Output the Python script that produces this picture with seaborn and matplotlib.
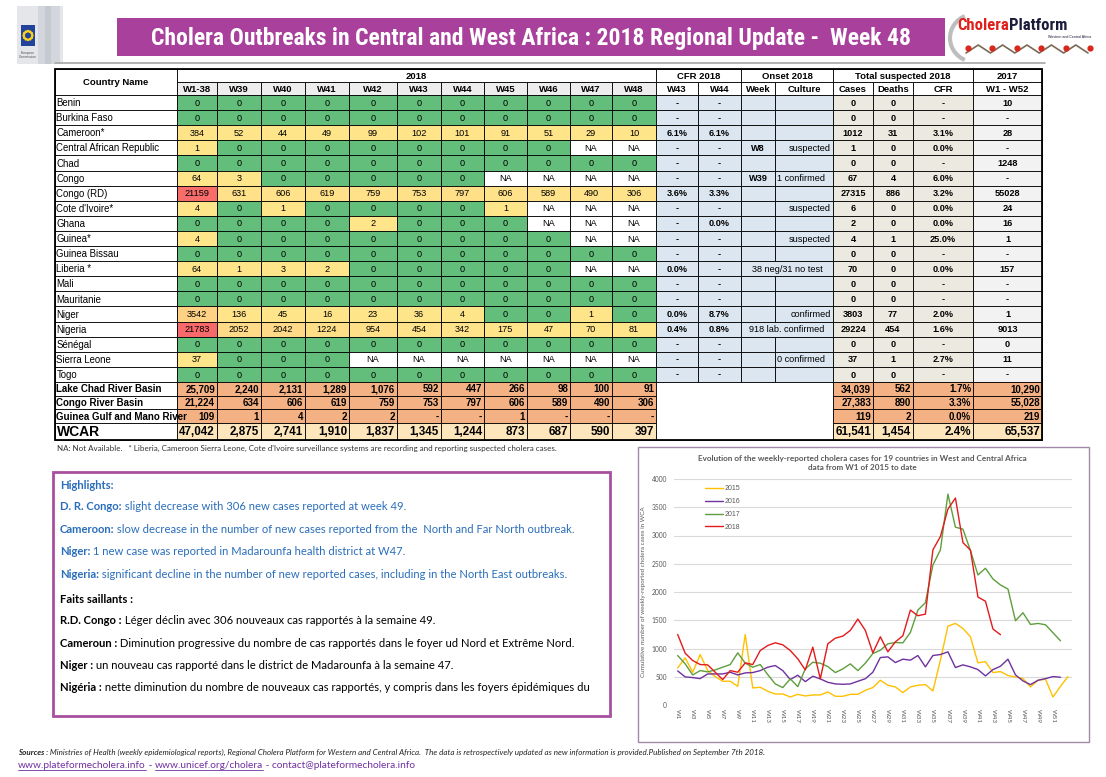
import numpy as np
import pandas as pd
import matplotlib
matplotlib.use('Agg')
import matplotlib.pyplot as plt
from matplotlib.patches import Rectangle, Circle, Arc
from matplotlib.colors import to_rgb
import seaborn as sns

sns.set_theme(style='white')
plt.rcParams['font.family'] = ['Liberation Sans', 'DejaVu Sans']

# ---------------- table data ----------------
week_cols = ['W1-38', 'W39', 'W40', 'W41', 'W42', 'W43', 'W44', 'W45', 'W46', 'W47', 'W48']
countries = ['Benin', 'Burkina Faso', 'Cameroon*', 'Central African Republic', 'Chad', 'Congo',
             'Congo (RD)', "Cote d'Ivoire*", 'Ghana', 'Guinea*', 'Guinea Bissau', 'Liberia *',
             'Mali', 'Mauritanie', 'Niger', 'Nigeria', 'Sénégal', 'Sierra Leone', 'Togo']
NA = 'NA'
weekly_2018 = [
    [0, 0, 0, 0, 0, 0, 0, 0, 0, 0, 0],
    [0, 0, 0, 0, 0, 0, 0, 0, 0, 0, 0],
    [384, 52, 44, 49, 99, 102, 101, 91, 51, 29, 10],
    [1, 0, 0, 0, 0, 0, 0, 0, 0, NA, NA],
    [0, 0, 0, 0, 0, 0, 0, 0, 0, 0, 0],
    [64, 3, 0, 0, 0, 0, 0, NA, NA, NA, NA],
    [21159, 631, 606, 619, 759, 753, 797, 606, 589, 490, 306],
    [4, 0, 1, 0, 0, 0, 0, 1, NA, NA, NA],
    [0, 0, 0, 0, 2, 0, 0, 0, NA, NA, NA],
    [4, 0, 0, 0, 0, 0, 0, 0, 0, NA, NA],
    [0, 0, 0, 0, 0, 0, 0, 0, 0, 0, 0],
    [64, 1, 3, 2, 0, 0, 0, 0, 0, NA, NA],
    [0, 0, 0, 0, 0, 0, 0, 0, 0, 0, 0],
    [0, 0, 0, 0, 0, 0, 0, 0, 0, 0, 0],
    [3542, 136, 45, 16, 23, 36, 4, 0, 0, 1, 0],
    [21783, 2052, 2042, 1224, 954, 454, 342, 175, 47, 70, 81],
    [0, 0, 0, 0, 0, 0, 0, 0, 0, 0, 0],
    [37, 0, 0, 0, NA, NA, NA, NA, NA, NA, NA],
    [0, 0, 0, 0, 0, 0, 0, 0, 0, 0, 0],
]
cfr_w43 = ['-', '-', '6.1%', '-', '-', '-', '3.6%', '-', '-', '-', '-', '0.0%', '-', '-',
           '0.0%', '0.4%', '-', '-', '-']
cfr_w44 = ['-', '-', '6.1%', '-', '-', '-', '3.3%', '-', '0.0%', '-', '-', '-', '-', '-',
           '8.7%', '0.8%', '-', '-', '-']
onset_week = ['', '', '', 'W8', '', 'W39', '', '', '', '', '', '', '', '', '', '', '', '', '']
onset_culture = ['', '', '', 'suspected', '', '1 confirmed', '', 'suspected', '', 'suspected', '',
                 '', '', '', 'confirmed', '', '', '0 confirmed', '']
onset_merged = ['', '', '', '', '', '', '', '', '', '', '', '38 neg/31 no test', '', '', '',
                '918 lab. confirmed', '', '', '']
total_cases = [0, 0, 1012, 1, 0, 67, 27315, 6, 2, 4, 0, 70, 0, 0, 3803, 29224, 0, 37, 0]
total_deaths = [0, 0, 31, 0, 0, 4, 886, 0, 0, 1, 0, 0, 0, 0, 77, 454, 0, 1, 0]
total_cfr = ['-', '-', '3.1%', '0.0%', '-', '6.0%', '3.2%', '0.0%', '0.0%', '25.0%', '-', '0.0%',
             '-', '-', '2.0%', '1.6%', '-', '2.7%', '-']
cases_2017_total = ['10', '-', '28', '-', '1248', '-', '55028', '24', '16', '1', '-', '157', '-',
                    '-', '1', '9013', '0', '11', '-']

basins = ['Lake Chad River Basin', 'Congo River Basin', 'Guinea Gulf and Mano River', 'WCAR']
basin_weekly = [
    ['25,709', '2,240', '2,131', '1,289', '1,076', '592', '447', '266', '98', '100', '91'],
    ['21,224', '634', '606', '619', '759', '753', '797', '606', '589', '490', '306'],
    ['109', '1', '4', '2', '2', '-', '-', '1', '-', '-', '-'],
    ['47,042', '2,875', '2,741', '1,910', '1,837', '1,345', '1,244', '873', '687', '590', '397'],
]
basin_cases = ['34,039', '27,383', '119', '61,541']
basin_deaths = ['562', '890', '2', '1,454']
basin_cfr = ['1.7%', '3.3%', '0.0%', '2.4%']
basin_2017 = ['10,290', '55,028', '219', '65,537']

# ---------------- chart data (weekly cases) ----------------
years = ['2015', '2016', '2017', '2018']
cases_2015 = [657, 834, 580, 893, 609, 503, 420, 420, 331, 1248, 302, 314, 243, 195, 195, 142,
              189, 160, 178, 178, 231, 154, 154, 189, 189, 260, 308, 438, 349, 320, 219, 320,
              349, 361, 249, 793, 1396, 1444, 1355, 1207, 745, 769, 574, 592, 521, 497, 467,
              320, 438, 456, 142, 331, 503]
cases_2016 = [603, 497, 485, 467, 550, 550, 550, 580, 532, 568, 574, 609, 669, 698, 609, 450,
              527, 414, 509, 462, 402, 373, 367, 373, 420, 465, 580, 840, 852, 751, 811, 793,
              876, 675, 876, 893, 941, 663, 710, 675, 627, 515, 627, 686, 811, 533, 426, 361,
              438, 467, 503, 491]
cases_2017 = [876, 728, 532, 609, 586, 621, 669, 716, 923, 740, 669, 716, 538, 373, 308, 462,
              325, 639, 757, 740, 680, 574, 639, 728, 609, 740, 911, 970, 1083, 1106, 1100,
              1284, 1680, 1811, 2479, 2745, 3733, 3148, 3112, 2734, 2302, 2420, 2231, 2124,
              2053, 1491, 1633, 1426, 1444, 1420, 1278, 1136]
cases_2018 = [1248, 917, 787, 716, 710, 580, 450, 609, 580, 746, 716, 964, 1053, 1101, 1065, 964,
              817, 621, 1024, 462, 1083, 1183, 1219, 1320, 1521, 1320, 923, 1207, 941, 1118,
              1225, 1680, 1580, 1609, 2745, 2982, 3467, 3663, 2875, 2741, 1910, 1837, 1345, 1244]
year_colors = {'2015': '#FFC000', '2016': '#7030A0', '2017': '#5E9E3C', '2018': '#E41A1C'}

frames = []
for yr, vals in zip(years, [cases_2015, cases_2016, cases_2017, cases_2018]):
    frames.append(pd.DataFrame({'week': np.arange(1, len(vals) + 1), 'cases': vals, 'year': yr}))
df = pd.concat(frames, ignore_index=True)

# ---------------- figure ----------------
fig = plt.figure(figsize=(11.06, 7.77), dpi=100)
bg = fig.add_axes([0, 0, 1, 1])
bg.set_xlim(0, 1106)
bg.set_ylim(777, 0)
bg.axis('off')
renderer = fig.canvas.get_renderer()
NARROW = ['Roboto Condensed', 'Liberation Sans Narrow', 'Liberation Sans', 'DejaVu Sans']
HF = ['Lato', 'DejaVu Sans']


def width_of(t):
    return t.get_window_extent(renderer).width


# header: EU logo
for x0, w, c in [(17, 46, '#E4E6EA'), (38, 22, '#D3D6DC'), (45, 6, '#C5C9D0')]:
    bg.add_patch(Rectangle((x0, 6), w, 58, facecolor=c, edgecolor='none'))
bg.add_patch(Rectangle((21, 25), 14, 21, facecolor='#23429A', edgecolor='none'))
for a in np.linspace(0, 2 * np.pi, 12, endpoint=False):
    bg.add_patch(Circle((28 + 4.3 * np.cos(a), 35.5 + 4.3 * np.sin(a)), 0.7, color='#FFD617'))
bg.text(28, 55, 'European\nCommission', fontsize=2.3, ha='center', va='center', color='#555555',
        linespacing=1.2)

# banner, title squeezed to the banner's text width
bg.add_patch(Rectangle((117, 18), 828, 38, facecolor='#A8409C', edgecolor='none'))
ttl = bg.text(531, 38, 'Cholera Outbreaks in Central and West Africa : 2018 Regional Update -  Week 48',
              ha='center', va='center', color='white', fontsize=17, fontweight='bold',
              family=NARROW)
ttl.set_fontsize(17 * min(1.0, 803 / width_of(ttl)))

# Cholera Platform logo
bg.add_patch(Arc((975, 38), 50, 48, theta1=115, theta2=245, color='#BDBDBD', lw=3))
t1 = bg.text(957, 30, 'Cholera', color='#E0201B', fontsize=12, fontweight='bold',
             family=NARROW, va='baseline')
t2 = bg.text(957, 30, 'Platform', color='#1B1B3A', fontsize=12, fontweight='bold',
             family=NARROW, va='baseline')
sc = min(1.0, 134 / (width_of(t1) + width_of(t2)))
t1.set_fontsize(12 * sc)
t2.set_fontsize(12 * sc)
t2.set_x(957 + width_of(t1))
bg.text(1091, 37, 'Western and Central Africa', fontsize=2.6, ha='right', va='center',
        color='#1B1B3A')
zx = np.linspace(966, 1088, 11)
zy = np.where(np.arange(11) % 2 == 0, 53, 45)
bg.plot(zx, zy, color='#7A6A55', lw=1.2)
bg.scatter(zx[::2] + 2, zy[::2] - 5, s=12, color='#D9261C', zorder=3)
bg.plot([55, 1045], [63, 63], color='#A6A6A6', lw=1.2)

# ---------------- table ----------------
col_edges = [55, 177, 217, 261, 305, 349, 397, 441, 484, 527, 570, 612, 656, 698, 741, 775, 833,
             873, 913, 973, 1042]
row_h = (382 - 95) / 19
TS = 6.6


def cell(x0, x1, y0, y1, fc='white', txt='', ha='center', bold=False, size=TS, color='black',
         pad=2.5, clip=False):
    r = Rectangle((x0, y0), x1 - x0, y1 - y0, facecolor=fc, edgecolor='black', linewidth=0.6)
    bg.add_patch(r)
    if txt != '':
        x = {'center': (x0 + x1) / 2, 'left': x0 + pad, 'right': x1 - pad}[ha]
        tt = bg.text(x, (y0 + y1) / 2 + 0.6, str(txt), ha=ha, va='center', fontsize=size,
                     fontweight='bold' if bold else 'normal', color=color)
        if clip:
            tt.set_clip_path(r)


yellow, red = np.array(to_rgb('#FFE58A')), np.array(to_rgb('#F8696B'))
vmax = max(v for row in weekly_2018 for v in row if v != NA)


def week_color(v):
    if v == NA:
        return 'white'
    if v == 0:
        return '#63BE7B'
    f = v / vmax
    return tuple(yellow * (1 - f) + red * f)


# header rows
cell(55, 177, 69, 95, txt='Country Name', bold=True, size=6.8)
for (a, b), lab in zip([(177, 656), (656, 741), (741, 833), (833, 973), (973, 1042)],
                       ['2018', 'CFR 2018', 'Onset 2018', 'Total suspected 2018', '2017']):
    cell(a, b, 69, 82, txt=lab, bold=True, size=6.8)
sub_labels = week_cols + ['W43', 'W44', 'Week', 'Culture', 'Cases', 'Deaths', 'CFR', 'W1 - W52']
for j, lab in enumerate(sub_labels):
    fc = '#EDEDED' if j < len(week_cols) else 'white'
    cell(col_edges[j + 1], col_edges[j + 2], 82, 95, fc=fc, txt=lab, bold=True, size=6.8)

blue, beige, grey = '#DCE6F1', '#ECEAE0', '#F2F2F2'
for i, name in enumerate(countries):
    y0, y1 = 95 + i * row_h, 95 + (i + 1) * row_h
    cell(55, 177, y0, y1, txt=name, ha='left', pad=1.5, size=6.9)
    for j, v in enumerate(weekly_2018[i]):
        cell(col_edges[j + 1], col_edges[j + 2], y0, y1, fc=week_color(v), txt=v)
    cell(656, 698, y0, y1, fc=blue, txt=cfr_w43[i], bold=True)
    cell(698, 741, y0, y1, fc=blue, txt=cfr_w44[i], bold=True)
    if onset_merged[i]:
        cell(741, 833, y0, y1, fc=blue, txt=onset_merged[i])
    else:
        cell(741, 775, y0, y1, fc=blue, txt=onset_week[i], bold=True)
        cul = onset_culture[i]
        cell(775, 833, y0, y1, fc=blue, txt=cul, ha='left' if cul[:1].isdigit() else 'right',
             pad=2)
    cell(833, 873, y0, y1, fc=beige, txt=total_cases[i], bold=True)
    cell(873, 913, y0, y1, fc=beige, txt=total_deaths[i], bold=True)
    cell(913, 973, y0, y1, fc=beige, txt=total_cfr[i], bold=True)
    cell(973, 1042, y0, y1, fc=grey, txt=cases_2017_total[i], bold=True)

basin_rows = [382, 395.5, 409, 423, 440]
salmon, cream = '#F4B183', '#FDE6BC'
for i, name in enumerate(basins):
    y0, y1 = basin_rows[i], basin_rows[i + 1]
    last = name == 'WCAR'
    fc = cream if last else salmon
    sz = 8.4 if last else 7.0
    cell(55, 177, y0, y1, txt=name, ha='left', bold=True, size=10 if last else 7.0, pad=1.5,
         clip=True)
    for j, v in enumerate(basin_weekly[i]):
        cell(col_edges[j + 1], col_edges[j + 2], y0, y1, fc=fc, txt=v, ha='right', bold=True,
             size=sz, pad=2)
    cell(833, 873, y0, y1, fc=fc, txt=basin_cases[i], ha='right', bold=True, size=sz, pad=2)
    cell(873, 913, y0, y1, fc=fc, txt=basin_deaths[i], ha='right', bold=True, size=sz, pad=2)
    cell(913, 973, y0, y1, fc=fc, txt=basin_cfr[i], ha='right', bold=True, size=sz, pad=2)
    cell(973, 1042, y0, y1, fc=fc, txt=basin_2017[i], ha='right', bold=True, size=sz, pad=2)
cell(656, 833, 382, 440)
bg.add_patch(Rectangle((55, 69), 987, 371, facecolor='none', edgecolor='black', lw=1.3))

bg.text(57, 448, "NA: Not Available.   * Liberia, Cameroon Sierra Leone, Cote d'Ivoire surveillance "
        "systems are recording and reporting suspected cholera cases.", fontsize=5.8,
        va='center', color='#333333', family=HF)

# ---------------- highlights box ----------------
bg.add_patch(Rectangle((53, 472), 557, 244, facecolor='white', edgecolor='#A7509F', lw=2))
BLUE = '#2A6EBB'


def rich(x, y, parts, size=8.1, family=HF, underline=()):
    for k, (txt, bold, italic, color) in enumerate(parts):
        tt = bg.text(x, y, txt, fontsize=size, fontweight='bold' if bold else 'normal',
                     fontstyle='italic' if italic else 'normal', color=color, family=family,
                     va='baseline')
        wd = width_of(tt)
        if k in underline:
            bg.plot([x, x + wd], [y + 1.8, y + 1.8], color=color, lw=0.6)
        x += wd


lines = [
    (489, [('Highlights:', True, False, BLUE)]),
    (510, [('D. R. Congo:', True, False, BLUE),
           (' slight decrease with 306 new cases reported at week 49.', False, False, BLUE)]),
    (533, [('Cameroon:', True, False, BLUE),
           (' slow decrease in the number of new cases reported from the  North and Far North outbreak.',
            False, False, BLUE)]),
    (555, [('Niger:', True, False, BLUE),
           (' 1 new case was reported in Madarounfa health district at W47.', False, False, BLUE)]),
    (578, [('Nigeria:', True, False, BLUE),
           (' significant decline in the number of new reported cases, including in the North East outbreaks.',
            False, False, BLUE)]),
    (603, [('Faits saillants :', True, False, 'black')]),
    (624, [('R.D. Congo :', True, False, 'black'),
           (' Léger déclin avec 306 nouveaux cas rapportés à la semaine 49.', False, False, 'black')]),
    (647, [('Cameroun :', True, False, 'black'),
           (' Diminution progressive du nombre de cas rapportés dans le foyer ud Nord et Extrême Nord.',
            False, False, 'black')]),
    (669, [('Niger :', True, False, 'black'),
           (' un nouveau cas rapporté dans le district de Madarounfa à la semaine 47.', False, False,
            'black')]),
    (691, [('Nigéria :', True, False, 'black'),
           (' nette diminution du nombre de nouveaux cas rapportés, y compris dans les foyers épidémiques du',
            False, False, 'black')]),
]
for y, parts in lines:
    rich(60, y, parts)

# ---------------- footer ----------------
rich(18, 755, [('Sources :', True, True, '#222222'),
               (' Ministries of Health (weekly epidemiological reports), Regional Cholera Platform for '
                'Western and Central Africa.  The data is retrospectively updated as new information is '
                'provided.Published on September 7th 2018.', False, True, '#222222')], size=5.8)
PURPLE = '#7030A0'
rich(18, 768, [('www.plateformecholera.info', False, False, PURPLE),
               (' - ', False, False, PURPLE),
               ('www.unicef.org/cholera', False, False, PURPLE),
               (' - contact@plateformecholera.info', False, False, PURPLE)], size=7.3,
     underline=(0, 2))

# ---------------- line chart ----------------
bg.add_patch(Rectangle((638, 447), 451, 295, facecolor='white', edgecolor='#A08AA8', lw=1))
bg.text(862, 458, 'Evolution of the weekly-reported cholera cases for 19 countries in West and '
        'Central Africa', ha='center', va='center', fontsize=5.85, fontweight='bold',
        color='#595959', family=HF)
bg.text(862, 468, 'data from W1 of 2015 to date', ha='center', va='center', fontsize=5.85,
        fontweight='bold', color='#595959', family=HF)

ax = fig.add_axes([674 / 1106, (777 - 705) / 777, (1072 - 674) / 1106, (705 - 479) / 777])
sns.lineplot(data=df, x='week', y='cases', hue='year', palette=year_colors, linewidth=1.0,
             ax=ax)
ax.set_xlim(0.51, 53.53)
ax.set_ylim(0, 4000)
ax.set_yticks(np.arange(0, 4001, 500))
ax.set_xticks(np.arange(1, 52, 2))
ax.set_xticklabels([f'W{k}' for k in range(1, 52, 2)], rotation=-90, family=HF)
ax.tick_params(axis='x', labelsize=4.6, colors='#595959', length=0, pad=3)
ax.tick_params(axis='y', labelsize=4.8, colors='#595959', length=0, pad=5)
for lab in ax.get_yticklabels():
    lab.set_family(HF)
ax.grid(axis='y', color='#D9D9D9', lw=0.8)
ax.grid(axis='x', visible=False)
for s in ax.spines.values():
    s.set_visible(False)
ax.set_facecolor('none')
ax.set_xlabel('')
ax.set_ylabel('Cumulative number of weekly-reported cholera cases in WCA', fontsize=4.5,
              color='#595959', family=HF)
ax.yaxis.set_label_coords((646 - 674) / 398, 0.5)
handles, labels = ax.get_legend_handles_labels()
leg = ax.legend(handles, labels, loc='upper left', bbox_to_anchor=(0.07, 0.985), frameon=False,
                fontsize=5, handlelength=2.6, labelspacing=0.85, handletextpad=0.3,
                borderaxespad=0)
for txt in leg.get_texts():
    txt.set_color('#595959')

fig.savefig('out.png', dpi=100)
